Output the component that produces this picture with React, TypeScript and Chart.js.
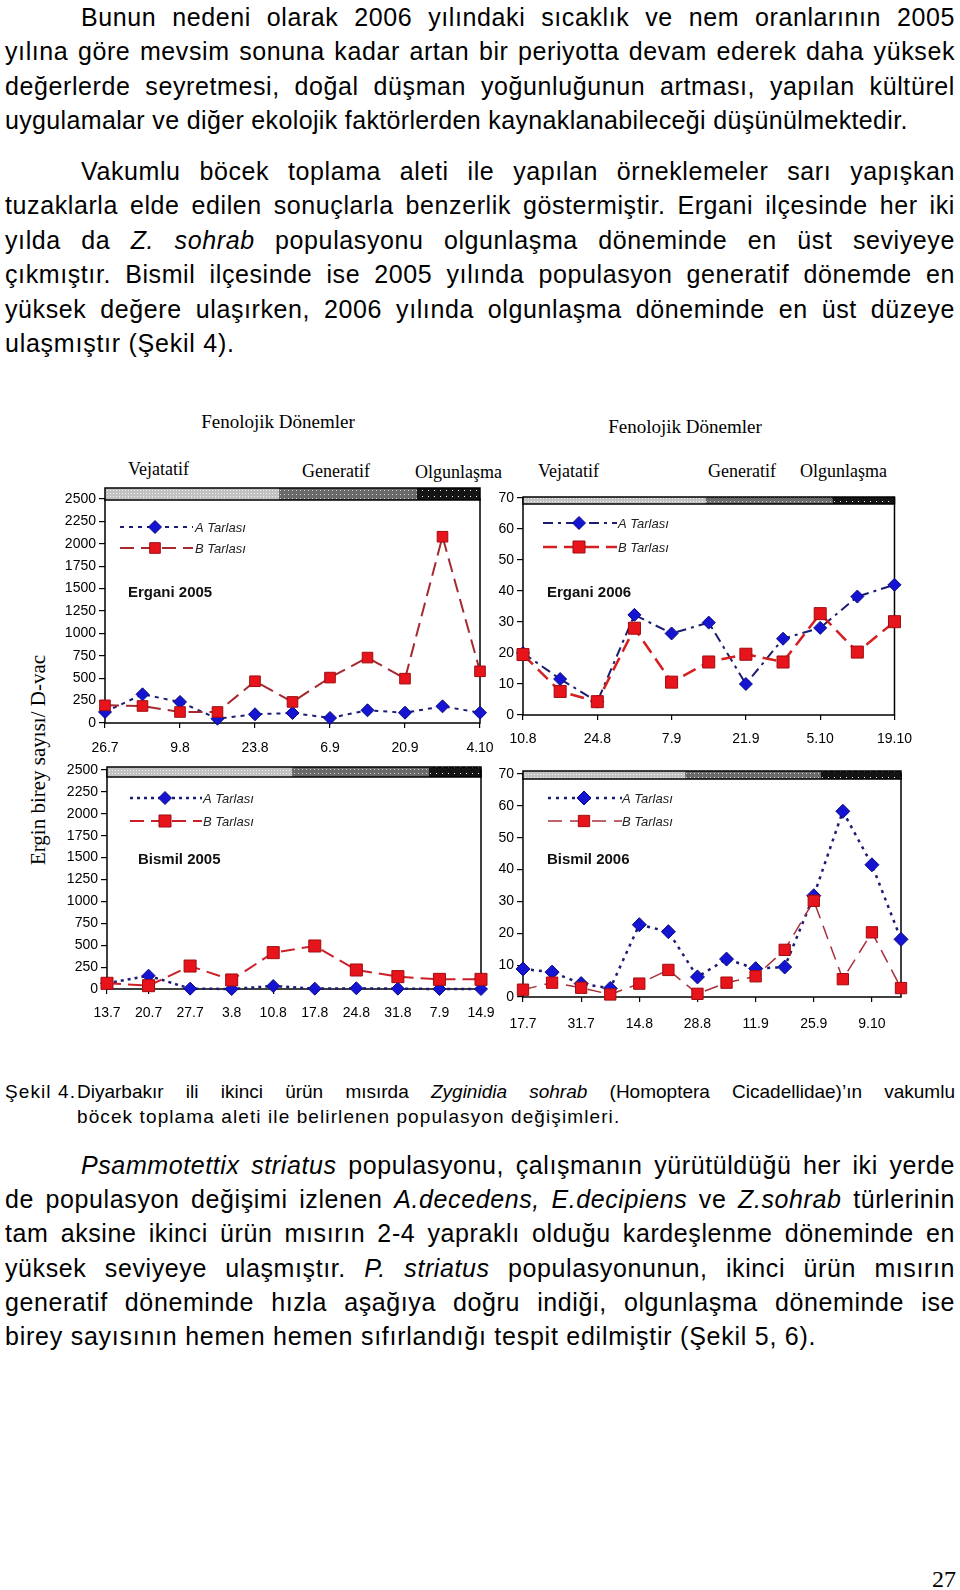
import React, { useEffect, useRef } from 'react';
import { Chart, registerables } from 'chart.js';
Chart.register(...registerables);

const SANS = '"Liberation Sans", Arial, Helvetica, sans-serif';
const SERIF = '"Liberation Serif", "Times New Roman", serif';

// ---------- DATA ----------
const erganiDates2005 = ['26.7', '2.8', '9.8', '16.8', '23.8', '30.8', '6.9', '13.9', '20.9', '27.9', '4.10'];
const erganiA2005 = [123, 320, 235, 48, 97, 112, 56, 142, 115, 186, 115];
const erganiB2005 = [197, 190, 123, 123, 466, 235, 507, 730, 495, 2079, 577];

const erganiDates2006 = ['10.8', '17.8', '24.8', '31.8', '7.9', '14.9', '21.9', '28.9', '5.10', '12.10', '19.10'];
const erganiA2006 = [20, 11.6, 4.3, 32.3, 26.3, 29.8, 10, 24.6, 28.1, 38.2, 42];
const erganiB2006 = [19.5, 7.6, 4.3, 28, 10.6, 17.1, 19.6, 17.1, 32.7, 20.3, 30.1];

const bismilDates2005 = ['13.7', '20.7', '27.7', '3.8', '10.8', '17.8', '24.8', '31.8', '7.9', '14.9'];
const bismilA2005 = [65, 152, 4, 0, 34, 4, 8, 4, 0, 0];
const bismilB2005 = [65, 38, 262, 103, 415, 491, 217, 141, 110, 110];

const bismilDates2006 = ['17.7', '24.7', '31.7', '7.8', '14.8', '21.8', '28.8', '4.9', '11.9', '18.9', '25.9', '2.10', '9.10', '16.10'];
const bismilA2006 = [8.8, 7.8, 4.2, 2.7, 22.7, 20.5, 6.3, 11.9, 8.9, 9.4, 31.8, 58.3, 41.5, 18.1];
const bismilB2006 = [2.3, 4.5, 2.9, 0.8, 4.2, 8.5, 1, 4.5, 6.5, 14.8, 30.2, 5.6, 20.3, 2.8];

const seriesNames = ['A Tarlası', 'B Tarlası'];
const phaseNames = ['Vejatatif', 'Generatif', 'Olgunlaşma'];
const countAxis = { max: 2500, step: 250 };
const smallAxis = { max: 70, step: 10 };

// ---------- CHART ----------
const YW = 50, PT = 22, PR = 28, XH = 42;

type Style = { color: string; width: number; dash: number[]; fill: string; edge: string; radius: number; shape: 'rectRot' | 'rect' };

type Cfg = {
  labels: string[]; a: number[]; b: number[]; axis: { max: number; step: number };
  plot: { left: number; top: number; w: number; h: number };
  every: number; xPad: number; styleA: Style; styleB: Style; title: string;
  titlePos: [number, number]; legX: [number, number, number, number]; legY: [number, number];
  phases: [number, number]; bar: [number, number];
};

function makePattern(ctx: CanvasRenderingContext2D, bg: string, dot: string, step: number) {
  const c = document.createElement('canvas');
  c.width = step; c.height = step;
  const g = c.getContext('2d')!;
  g.fillStyle = bg; g.fillRect(0, 0, step, step);
  g.fillStyle = dot; g.fillRect(1, 1, 1, 1);
  return ctx.createPattern(c, 'repeat')!;
}

function drawMarker(ctx: CanvasRenderingContext2D, x: number, y: number, s: Style) {
  ctx.beginPath();
  const r = s.radius;
  if (s.shape === 'rectRot') {
    ctx.moveTo(x - r, y); ctx.lineTo(x, y - r); ctx.lineTo(x + r, y); ctx.lineTo(x, y + r); ctx.closePath();
  } else {
    const h = r * Math.SQRT1_2;
    ctx.rect(x - h, y - h, 2 * h, 2 * h);
  }
  ctx.setLineDash([]);
  ctx.fillStyle = s.fill; ctx.fill();
  ctx.lineWidth = 1; ctx.strokeStyle = s.edge; ctx.stroke();
}

function PhenoChart({ cfg }: { cfg: Cfg }) {
  const ref = useRef<HTMLCanvasElement>(null);
  const W = cfg.plot.w + YW + PR;
  const H = cfg.plot.h + PT + XH;
  useEffect(() => {
    const decor = {
      id: 'decor',
      beforeDatasetsDraw(chart: any) {
        const { ctx, chartArea: a } = chart;
        ctx.save();
        const w = a.right - a.left;
        ctx.strokeStyle = '#000'; ctx.lineWidth = 1.5; ctx.setLineDash([]);
        ctx.strokeRect(a.left, a.top, w, a.bottom - a.top);
        const y = a.top + cfg.bar[0]; const bh = cfg.bar[1];
        const xs = [a.left, a.left + w * cfg.phases[0], a.left + w * cfg.phases[1], a.right];
        const pats = [
          makePattern(ctx, '#c2c2c2', '#efefef', 3),
          makePattern(ctx, '#6a6a6a', '#d4d4d4', 4),
          makePattern(ctx, '#141414', '#f4f4f4', 6),
        ];
        for (let i = 0; i < 3; i++) {
          ctx.fillStyle = pats[i];
          ctx.fillRect(xs[i], y, xs[i + 1] - xs[i], bh);
        }
        ctx.strokeStyle = '#000'; ctx.lineWidth = 1.5;
        ctx.strokeRect(a.left, y, w, bh);
        ctx.font = 'bold 15px ' + SANS;
        ctx.fillStyle = '#111'; ctx.textBaseline = 'middle'; ctx.textAlign = 'left';
        ctx.fillText(cfg.title, a.left + cfg.titlePos[0], a.top + cfg.titlePos[1]);
        const styles = [cfg.styleA, cfg.styleB];
        for (let i = 0; i < 2; i++) {
          const s = styles[i];
          const ly = a.top + cfg.legY[i];
          ctx.beginPath();
          ctx.setLineDash(s.dash);
          ctx.strokeStyle = s.color; ctx.lineWidth = s.width;
          ctx.moveTo(a.left + cfg.legX[0], ly); ctx.lineTo(a.left + cfg.legX[1], ly);
          ctx.stroke();
          drawMarker(ctx, a.left + cfg.legX[2], ly, s);
          ctx.font = 'italic 13px ' + SANS;
          ctx.fillStyle = '#222'; ctx.textBaseline = 'middle';
          ctx.fillText(seriesNames[i], a.left + cfg.legX[3], ly + 1);
        }
        ctx.restore();
      },
    };
    const ds = (data: number[], s: Style, label: string) => ({
      label, data,
      borderColor: s.color, borderWidth: s.width, borderDash: s.dash,
      pointStyle: s.shape, pointRadius: s.radius, pointBackgroundColor: s.fill,
      pointBorderColor: s.edge, pointBorderWidth: 1, fill: false, tension: 0, clip: false,
    });
    const chart = new Chart(ref.current!, {
      type: 'line',
      data: { labels: cfg.labels, datasets: [ds(cfg.b, cfg.styleB, seriesNames[1]), ds(cfg.a, cfg.styleA, seriesNames[0])] },
      options: {
        responsive: false, animation: false, devicePixelRatio: 1,
        layout: { padding: { top: PT, right: PR, left: 0, bottom: 0 } },
        plugins: { legend: { display: false }, tooltip: { enabled: false }, title: { display: false } },
        scales: {
          x: {
            type: 'category', offset: false,
            border: { display: false },
            grid: {
              display: true, drawOnChartArea: false, drawTicks: true, tickLength: 5, lineWidth: 1.2,
              tickColor: (c: any) => (c.index % cfg.every === 0 ? '#000' : 'rgba(0,0,0,0)'),
            },
            ticks: {
              autoSkip: false, maxRotation: 0, minRotation: 0, padding: cfg.xPad, color: '#000',
              font: { size: 14, family: SANS },
              callback: (_v: any, i: number) => (i % cfg.every === 0 ? cfg.labels[i] : ''),
            },
            afterFit: (s: any) => { s.height = XH; },
          },
          y: {
            min: 0, max: cfg.axis.max,
            border: { display: false },
            grid: { display: true, drawOnChartArea: false, drawTicks: true, tickLength: 6, color: '#000', lineWidth: 1.2 },
            ticks: {
              stepSize: cfg.axis.step, padding: 3, color: '#000', font: { size: 14, family: SANS },
              callback: (v: any) => String(v),
            },
            afterFit: (s: any) => { s.width = YW; },
          },
        },
      },
      plugins: [decor],
    } as any);
    return () => chart.destroy();
  }, []);
  return (
    <canvas ref={ref} width={W} height={H}
      style={{ position: 'absolute', left: cfg.plot.left - YW, top: cfg.plot.top - PT, width: W, height: H }} />
  );
}

const diamond = (dash: number[], width = 2, radius = 6.5): Style => ({ color: '#1c1c72', width, dash, fill: '#1414d2', edge: '#0a0a80', radius, shape: 'rectRot' });
const square = (color: string, dash: number[], width = 2, radius = 8): Style => ({ color, width, dash, fill: '#e8141c', edge: '#a00c10', radius, shape: 'rect' });

const charts: Cfg[] = [
  {
    labels: erganiDates2005, a: erganiA2005, b: erganiB2005, axis: countAxis,
    plot: { left: 105, top: 499, w: 375, h: 224 }, every: 2, xPad: 12,
    styleA: diamond([4, 5], 2, 6.5), styleB: square('#a52a30', [14, 7], 2, 7.5), title: 'Ergani 2005',
    titlePos: [23, 94], legX: [15, 88, 50, 90], legY: [28, 49], phases: [0.464, 0.832], bar: [-11, 12],
  },
  {
    labels: erganiDates2006, a: erganiA2006, b: erganiB2006, axis: smallAxis,
    plot: { left: 523, top: 498, w: 372, h: 217 }, every: 2, xPad: 11,
    styleA: diamond([10, 5, 3, 5], 2, 6.5), styleB: square('#d42020', [14, 7], 2.5, 8.5), title: 'Ergani 2006',
    titlePos: [24, 95], legX: [20, 94, 56, 95], legY: [25, 49], phases: [0.492, 0.833], bar: [-1, 7],
  },
  {
    labels: bismilDates2005, a: bismilA2005, b: bismilB2005, axis: countAxis,
    plot: { left: 107, top: 770, w: 374, h: 219 }, every: 1, xPad: 11,
    styleA: diamond([3, 4], 2.5, 6.5), styleB: square('#cc2028', [14, 7], 2, 8.5), title: 'Bismil 2005',
    titlePos: [31, 90], legX: [23, 95, 58, 96], legY: [28, 51], phases: [0.495, 0.861], bar: [-3, 10],
  },
  {
    labels: bismilDates2006, a: bismilA2006, b: bismilB2006, axis: smallAxis,
    plot: { left: 523, top: 774, w: 378, h: 223 }, every: 2, xPad: 14,
    styleA: diamond([3, 5], 2.5, 7), styleB: square('#a83038', [14, 8], 1.5, 8), title: 'Bismil 2006',
    titlePos: [24, 86], legX: [25, 99, 61, 99], legY: [24, 47], phases: [0.429, 0.788], bar: [-3, 8],
  },
];

// ---------- TEXT ----------
type LineProps = { cy: number; left?: number; width?: number; justify?: boolean; size?: number; lh?: number; ls?: number; children: React.ReactNode };
function Line({ cy, left = 5, width = 950, justify = true, size = 25, lh = 34.5, ls = 0.6, children }: LineProps) {
  return (
    <div style={{
      position: 'absolute', left, top: cy - lh / 2, width, height: lh, lineHeight: lh + 'px',
      fontSize: size, fontFamily: SANS, color: '#000', letterSpacing: ls + 'px', whiteSpace: 'nowrap',
      textAlign: justify ? 'justify' : 'left', textAlignLast: justify ? 'justify' : 'left',
    } as any}>{children}</div>
  );
}

function Label({ x, cy, size, text, center = false }: { x: number; cy: number; size: number; text: string; center?: boolean }) {
  return (
    <div style={{
      position: 'absolute', left: x, top: cy - size * 0.6, lineHeight: size * 1.2 + 'px', fontSize: size,
      fontFamily: SERIF, whiteSpace: 'nowrap', color: '#000', transform: center ? 'translateX(-50%)' : undefined,
    }}>{text}</div>
  );
}

const S = 34.5;
const p1 = 17;
const p2 = 171;
const p3 = 1165;
const S3 = 34.3;
const CAP = 19;
const CAPLS = 1.1;

export default function App() {
  return (
    <div style={{ position: 'absolute', left: 0, top: 0, width: 960, height: 1590, background: '#fff', overflow: 'hidden' }}>
      <Line cy={p1} left={81} width={874}>Bunun nedeni olarak 2006 yılındaki sıcaklık ve nem oranlarının 2005</Line>
      <Line cy={p1 + S}>yılına göre mevsim sonuna kadar artan bir periyotta devam ederek daha yüksek</Line>
      <Line cy={p1 + 2 * S}>değerlerde seyretmesi, doğal düşman yoğunluğunun artması, yapılan kültürel</Line>
      <Line cy={p1 + 3 * S} justify={false} ls={0.35}>uygulamalar ve diğer ekolojik faktörlerden kaynaklanabileceği düşünülmektedir.</Line>

      <Line cy={p2} left={81} width={874}>Vakumlu böcek toplama aleti ile yapılan örneklemeler sarı yapışkan</Line>
      <Line cy={p2 + S}>tuzaklarla elde edilen sonuçlarla benzerlik göstermiştir. Ergani ilçesinde her iki</Line>
      <Line cy={p2 + 2 * S}>yılda da <i>Z. sohrab</i> populasyonu olgunlaşma döneminde en üst seviyeye</Line>
      <Line cy={p2 + 3 * S}>çıkmıştır. Bismil ilçesinde ise 2005 yılında populasyon generatif dönemde en</Line>
      <Line cy={p2 + 4 * S}>yüksek değere ulaşırken, 2006 yılında olgunlaşma döneminde en üst düzeye</Line>
      <Line cy={p2 + 5 * S} justify={false} ls={0.75}>ulaşmıştır (Şekil 4).</Line>

      <Label x={278} cy={422} size={19} text="Fenolojik Dönemler" center />
      <Label x={128} cy={470} size={18} text={phaseNames[0]} />
      <Label x={302} cy={472} size={18} text={phaseNames[1]} />
      <Label x={415} cy={473} size={18} text={phaseNames[2]} />
      <Label x={685} cy={427} size={19} text="Fenolojik Dönemler" center />
      <Label x={538} cy={472} size={18} text={phaseNames[0]} />
      <Label x={708} cy={472} size={18} text={phaseNames[1]} />
      <Label x={800} cy={472} size={18} text={phaseNames[2]} />
      <div style={{
        position: 'absolute', left: 38, top: 760, transform: 'translate(-50%, -50%) rotate(-90deg)',
        fontFamily: SERIF, fontSize: 21, whiteSpace: 'nowrap', color: '#000', lineHeight: '24px',
      }}>Ergin birey sayısı/ D-vac</div>

      {charts.map((c, i) => <PhenoChart key={i} cfg={c} />)}

      <Line cy={1091} size={CAP} ls={CAPLS} lh={25} left={5} width={80} justify={false}>Şekil 4.</Line>
      <Line cy={1091} size={CAP} ls={0} lh={25} left={77} width={878}>Diyarbakır ili ikinci ürün mısırda <i>Zyginidia sohrab</i> (Homoptera Cicadellidae)’ın vakumlu</Line>
      <Line cy={1116} size={CAP} ls={CAPLS} lh={25} left={77} width={878} justify={false}>böcek toplama aleti ile belirlenen populasyon değişimleri.</Line>

      <Line cy={p3} left={81} width={874}><i>Psammotettix striatus</i> populasyonu, çalışmanın yürütüldüğü her iki yerde</Line>
      <Line cy={p3 + S3}>de populasyon değişimi izlenen <i>A.decedens, E.decipiens</i> ve <i>Z.sohrab</i> türlerinin</Line>
      <Line cy={p3 + 2 * S3}>tam aksine ikinci ürün mısırın 2-4 yapraklı olduğu kardeşlenme döneminde en</Line>
      <Line cy={p3 + 3 * S3}>yüksek seviyeye ulaşmıştır. <i>P. striatus</i> populasyonunun, ikinci ürün mısırın</Line>
      <Line cy={p3 + 4 * S3}>generatif döneminde hızla aşağıya doğru indiği, olgunlaşma döneminde ise</Line>
      <Line cy={p3 + 5 * S3} justify={false} ls={0.75}>birey sayısının hemen hemen sıfırlandığı tespit edilmiştir (Şekil 5, 6).</Line>

      <div style={{ position: 'absolute', right: 4, top: 1564, fontFamily: SERIF, fontSize: 24, lineHeight: '30px', color: '#000' }}>27</div>
    </div>
  );
}
